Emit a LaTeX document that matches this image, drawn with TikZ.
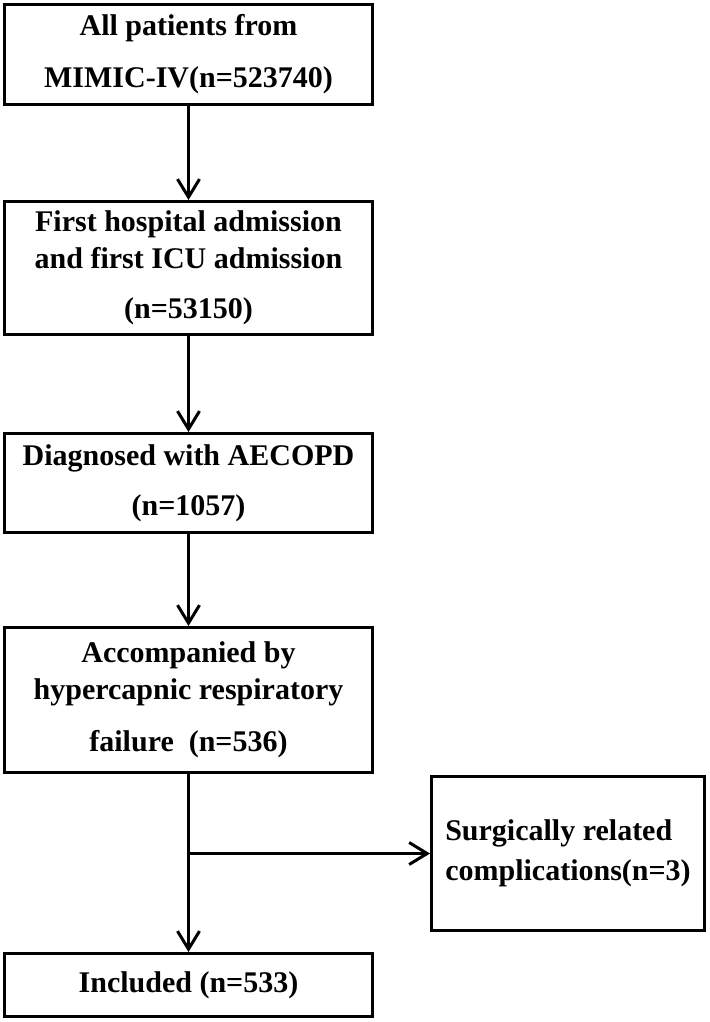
\documentclass[tikz,border=0pt]{standalone}
\usepackage{fontspec}
\setmainfont{Liberation Serif}
\usetikzlibrary{arrows.meta,calc,positioning}
\tikzset{
  box/.style   = {draw, line width=1.5pt, align=center, inner sep=0pt,
                  minimum width=184pt, font=\fontsize{15}{18.5}\selectfont\bfseries},
  flow/.style  = {-{Straight Barb[length=9pt,width=11pt]}, line width=1.5pt},
  wire/.style  = {line width=1.5pt},
}
\begin{document}
\begin{tikzpicture}[x=0.5pt,y=-0.5pt]
  \useasboundingbox (0,0) rectangle (709,1022);
  \node[box,minimum height=50pt] (all) at (188.5,54.5)
    {All patients from\\[7.5pt]MIMIC-IV(n=523740)};
  \node[box,minimum height=66.5pt] (first) at (188.5,268)
    {First hospital admission\\and first ICU admission\\[6.5pt](n=53150)};
  \node[box,minimum height=49.5pt] (aecopd) at (188.5,483)
    {Diagnosed with AECOPD\\[6.5pt](n=1057)};
  \node[box,minimum height=72.5pt] (hrf) at (188.5,700)
    {Accompanied by\\hypercapnic respiratory\\[7.5pt]failure\ \ (n=536)};
  \node[box,align=left,minimum width=136.5pt,minimum height=77pt] (surg) at (568,853.5)
    {Surgically related\\[1.5pt]complications(n=3)};
  \node[box,minimum height=31.5pt] (incl) at (188.5,985) {Included (n=533)};
  \coordinate (split) at (188.5,853.5);
  \draw[flow] (all) -- (first);
  \draw[flow] (first) -- (aecopd);
  \draw[flow] (aecopd) -- (hrf);
  \draw[flow] (hrf) -- (incl);
  \draw[flow] (split) -- (surg.west);
\end{tikzpicture}
\end{document}
